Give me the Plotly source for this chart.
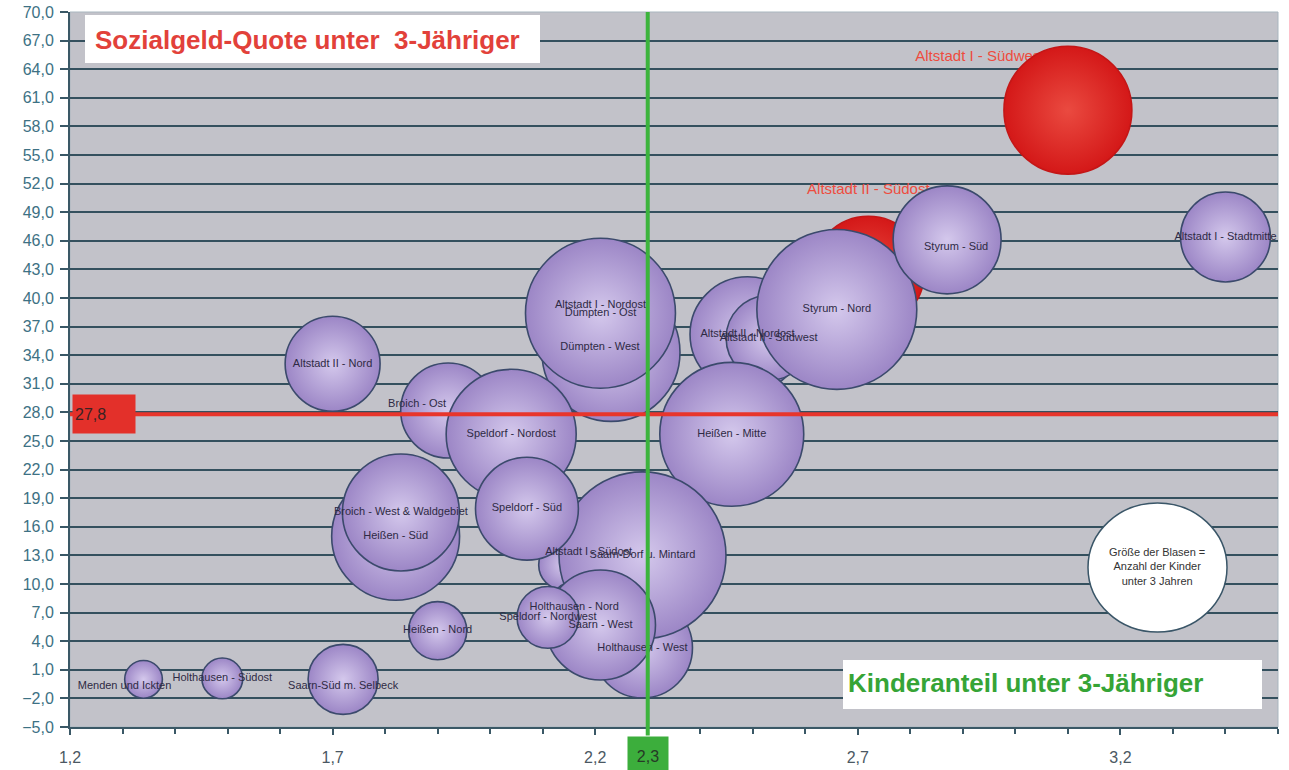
import plotly.graph_objects as go

FONT = "Arial, Liberation Sans, sans-serif"

# Axis ranges
X_MIN, X_MAX = 1.2, 3.5
Y_MIN, Y_MAX = -5.0, 70.0

# Averages drawn as reference lines
kinderanteil_mittel = 2.3
sozialgeld_mittel = 27.8

# Districts in drawing order (later ones lie on top)
districts = [
    "Altstadt I - Stadtmitte", "Altstadt I - Südwest", "Altstadt I - Nordost",
    "Altstadt I - Südost", "Altstadt II - Nord", "Altstadt II - Nordost",
    "Altstadt II - Südwest", "Altstadt II - Südost", "Styrum - Nord",
    "Styrum - Süd", "Dümpten - West", "Dümpten - Ost", "Heißen - Nord",
    "Heißen - Mitte", "Heißen - Süd", "Holthausen - Nord",
    "Holthausen - Südost", "Holthausen - West", "Menden und Ickten",
    "Saarn-Dorf u. Mintard", "Saarn - West", "Saarn-Süd m. Selbeck",
    "Broich - Ost", "Broich - West & Waldgebiet", "Speldorf - Nordost",
    "Speldorf - Süd", "Speldorf - Nordwest",
]
# Kinderanteil unter 3-Jähriger (%)
kinderanteil = [
    3.40, 3.10, 2.21, 2.14, 1.70, 2.49, 2.53, 2.72, 2.66, 2.87, 2.23, 2.21,
    1.90, 2.46, 1.82, 2.16, 1.49, 2.29, 1.34, 2.29, 2.21, 1.72, 1.92, 1.83,
    2.04, 2.07, 2.11,
]
# Sozialgeld-Quote unter 3-Jähriger (%)
sozialgeld_quote = [
    46.4, 59.7, 39.2, 12.0, 33.1, 36.2, 35.8, 42.7, 38.8, 46.1, 34.3, 38.4,
    5.1, 25.7, 15.0, 7.6, 0.1, 3.3, 0.0, 13.0, 5.7, 0.0, 28.2, 17.5,
    25.7, 17.9, 6.5,
]
# Anzahl der Kinder unter 3 Jahren (bubble size)
kinder_u3 = [
    165, 334, 165, 51, 184, 270, 147, 256, 522, 238, 389, 459,
    69, 423, 334, 51, 34, 204, 29, 569, 247, 100, 184, 279,
    345, 216, 78,
]
# Districts highlighted in red
hervorgehoben = {"Altstadt I - Südwest", "Altstadt II - Südost"}

# Label offsets in pixels (right, up) where a label sits off its bubble centre
label_offsets = {
    "Menden und Ickten": (-19, -7),
    "Saarn-Süd m. Selbeck": (0, -7),
    "Broich - Ost": (-31, 6),
    "Dümpten - West": (-11, 5),
    "Altstadt I - Südost": (25, 13),
    "Styrum - Süd": (9, -7),
    "Altstadt I - Südwest": (-88, 53),
    "Altstadt II - Südost": (0, 82),
}

W, H = 1289, 770
M_L, M_R, M_T, M_B = 70, 11, 12, 43
PLOT_W = W - M_L - M_R
PLOT_H = H - M_T - M_B
PX_X = PLOT_W / (X_MAX - X_MIN)
PX_Y = PLOT_H / (Y_MAX - Y_MIN)

# bubble diameter in px = 7 * sqrt(count)
SIZEREF = 2.0 / 49.0


def de(v):
    return f"{v:.1f}".replace(".", ",")


is_red = [d in hervorgehoben for d in districts]
edge_col = ["#d41818" if r else "#9c86c6" for r in is_red]
center_col = ["#ea4a40" if r else "#d4c8ec" for r in is_red]
line_col = ["#c41616" if r else "#3b4a6c" for r in is_red]

lab_x, lab_y = [], []
for d, x, y in zip(districts, kinderanteil, sozialgeld_quote):
    dx, dy = label_offsets.get(d, (0, 0))
    lab_x.append(x + dx / PX_X)
    lab_y.append(y + dy / PX_Y)

red_idx = [i for i, r in enumerate(is_red) if r]
purple_idx = [i for i, r in enumerate(is_red) if not r]

fig = go.Figure()

# red labels sit underneath the bubbles
fig.add_trace(go.Scatter(
    x=[lab_x[i] for i in red_idx], y=[lab_y[i] for i in red_idx],
    mode="text", text=[districts[i] for i in red_idx],
    textposition="middle center",
    textfont=dict(size=15, color="#ee4c3e", family=FONT),
    hoverinfo="skip", showlegend=False,
))

fig.add_trace(go.Scatter(
    x=kinderanteil, y=sozialgeld_quote, mode="markers",
    text=districts, customdata=kinder_u3,
    hovertemplate="%{text}<br>Kinderanteil: %{x}<br>Sozialgeld-Quote: %{y}"
                  "<br>Kinder unter 3: %{customdata}<extra></extra>",
    marker=dict(
        size=kinder_u3, sizemode="area", sizeref=SIZEREF,
        color=edge_col,
        gradient=dict(type="radial", color=center_col),
        line=dict(color=line_col, width=1.6),
        opacity=1,
    ),
    showlegend=False,
))

fig.add_trace(go.Scatter(
    x=[lab_x[i] for i in purple_idx], y=[lab_y[i] for i in purple_idx],
    mode="text", text=[districts[i] for i in purple_idx],
    textposition="middle center",
    textfont=dict(size=11, color="#2e2a44", family=FONT),
    hoverinfo="skip", showlegend=False,
))


def px_to_paper_x(px):
    return (px - M_L) / PLOT_W


def px_to_paper_y(py):
    return (H - M_B - py) / PLOT_H


shapes = [
    # light frame on top/right
    dict(type="rect", xref="paper", yref="paper", x0=0, x1=1, y0=0, y1=1,
         line=dict(color="#a9b6bf", width=1), layer="below"),
    # Sozialgeld average line
    dict(type="line", xref="x", yref="y", x0=X_MIN, x1=X_MAX,
         y0=sozialgeld_mittel, y1=sozialgeld_mittel,
         line=dict(color="#e8352b", width=4)),
    # Kinderanteil average line
    dict(type="line", xref="x", yref="paper",
         x0=kinderanteil_mittel, x1=kinderanteil_mittel, y0=-0.012, y1=1,
         line=dict(color="#3cb43c", width=4)),
    # title boxes
    dict(type="rect", xref="paper", yref="paper",
         x0=px_to_paper_x(85), x1=px_to_paper_x(540),
         y0=px_to_paper_y(63), y1=px_to_paper_y(15),
         fillcolor="white", line=dict(width=0)),
    dict(type="rect", xref="paper", yref="paper",
         x0=px_to_paper_x(843), x1=px_to_paper_x(1262),
         y0=px_to_paper_y(709), y1=px_to_paper_y(660),
         fillcolor="white", line=dict(width=0)),
    # size legend
    dict(type="circle", xref="paper", yref="paper",
         x0=px_to_paper_x(1088), x1=px_to_paper_x(1227),
         y0=px_to_paper_y(632), y1=px_to_paper_y(503),
         fillcolor="white", line=dict(color="#3a5668", width=1.5)),
]

annotations = [
    dict(xref="paper", yref="paper", x=px_to_paper_x(93), y=px_to_paper_y(40),
         xanchor="left", yanchor="middle", showarrow=False,
         text="Sozialgeld-Quote unter\u00a0\u00a03-Jähriger",
         font=dict(size=26, color="#e2413a", family=FONT, weight="bold")),
    dict(xref="paper", yref="paper", x=px_to_paper_x(846), y=px_to_paper_y(683),
         xanchor="left", yanchor="middle", showarrow=False,
         text="Kinderanteil unter 3-Jähriger",
         font=dict(size=26, color="#36a436", family=FONT, weight="bold")),
    dict(xref="paper", yref="paper", x=px_to_paper_x(1157), y=px_to_paper_y(566),
         xanchor="center", yanchor="middle", showarrow=False,
         text="Größe der Blasen =<br>Anzahl der Kinder<br>unter 3 Jahren",
         font=dict(size=11, color="#333333", family=FONT)),
    dict(xref="paper", yref="y", x=0.0015, y=sozialgeld_mittel,
         xanchor="left", yanchor="middle", showarrow=False,
         text=de(sozialgeld_mittel), align="left",
         width=58, height=34, borderpad=2, bgcolor="#e3302a",
         font=dict(size=16, color="#3a2222", family=FONT)),
    dict(xref="x", yref="paper", x=kinderanteil_mittel, y=-0.012,
         xanchor="center", yanchor="top", showarrow=False,
         text=de(kinderanteil_mittel),
         width=36, height=34, borderpad=2, bgcolor="#3cae3c",
         font=dict(size=16, color="#263a26", family=FONT)),
]

fig.update_layout(
    width=W, height=H,
    margin=dict(l=M_L, r=M_R, t=M_T, b=M_B, pad=0, autoexpand=False),
    paper_bgcolor="white", plot_bgcolor="#c2c2c9",
    separators=",.", showlegend=False,
    shapes=shapes, annotations=annotations,
    xaxis=dict(
        range=[X_MIN, X_MAX], tick0=1.2, dtick=0.5, tickformat=".1f",
        automargin=False,
        showgrid=False, zeroline=False, showline=True,
        linecolor="#3a5866", linewidth=2,
        ticks="outside", ticklen=6, tickcolor="#3a5866", tickwidth=2,
        ticklabelstandoff=9,
        tickfont=dict(size=16, color="#4b5863", family=FONT),
        minor=dict(ticks="outside", dtick=0.1, tick0=1.2, ticklen=5,
                   tickcolor="#3a5866", tickwidth=1.5, showgrid=False),
    ),
    yaxis=dict(
        range=[Y_MIN, Y_MAX], tick0=-5, dtick=3, tickformat=".1f",
        automargin=False,
        showgrid=True, gridcolor="#34505e", gridwidth=2,
        zeroline=False, showline=True,
        linecolor="#3a5866", linewidth=2,
        ticks="outside", ticklen=8, tickcolor="#3a5866", tickwidth=2,
        ticklabelstandoff=3,
        tickfont=dict(size=16, color="#3d7184", family=FONT),
    ),
)

fig.write_html("out.html")
